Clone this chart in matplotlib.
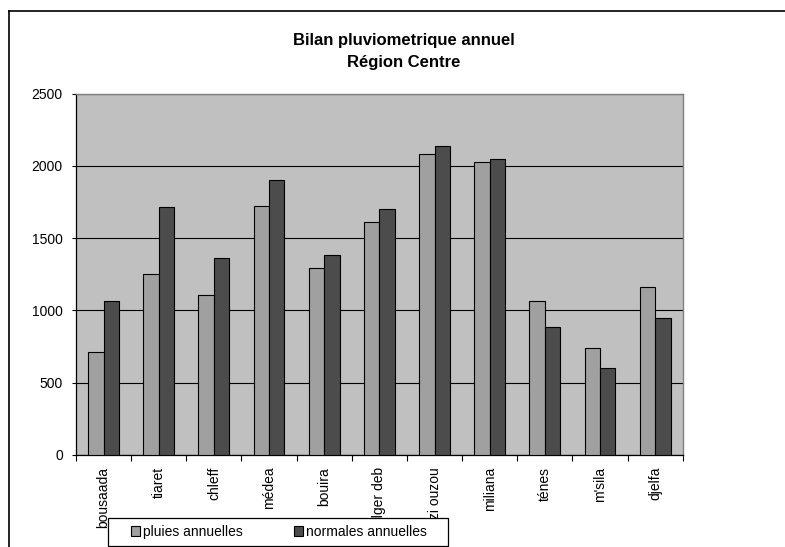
import matplotlib
matplotlib.use("Agg")
import matplotlib.pyplot as plt
from matplotlib.patches import Rectangle
from matplotlib.lines import Line2D
import numpy as np

plt.rcParams['font.family'] = ['Liberation Sans', 'DejaVu Sans']

# annual rainfall per station (mm)
stations = ['bousaada', 'tiaret', 'chleff', 'médea', 'bouira', 'alger deb',
            'tizi ouzou', 'miliana', 'ténes', "m'sila", 'djelfa']
pluies = [710, 1250, 1110, 1720, 1295, 1610, 2085, 2030, 1065, 740, 1165]
normales = [1065, 1715, 1365, 1905, 1385, 1705, 2140, 2050, 885, 605, 950]
yticks = [0, 500, 1000, 1500, 2000, 2500]

W, H = 785, 547
fig = plt.figure(figsize=(W / 100, H / 100), dpi=100)
fig.patch.set_facecolor('white')

def fx(px):
    return px / W

def fy(py):
    return 1 - py / H

# outer chart frame (runs off the right and bottom edges)
fig.add_artist(Line2D([fx(9), fx(9)], [fy(11), fy(560)], color='black', lw=1.2,
                      transform=fig.transFigure))
fig.add_artist(Line2D([fx(9), fx(800)], [fy(11), fy(11)], color='black', lw=1.2,
                      transform=fig.transFigure))

ax = fig.add_axes([fx(76), fy(455), fx(682.7) - fx(76), fy(93.7) - fy(455)])
ax.set_facecolor('#c0c0c0')

x = np.arange(len(stations))
w = 0.28
ax.bar(x - w / 2, pluies, w, color='#a0a0a0', edgecolor='black', linewidth=0.8,
       label='pluies annuelles', zorder=3)
ax.bar(x + w / 2, normales, w, color='#4c4c4c', edgecolor='black', linewidth=0.8,
       label='normales annuelles', zorder=3)

ax.set_xlim(-0.5, len(stations) - 0.5)
ax.set_ylim(0, 2500)
ax.set_yticks(yticks)
ax.set_yticklabels([str(v) for v in yticks], fontsize=10)
ax.tick_params(axis='y', direction='out', length=3, width=0.8, pad=6.5, color='black')

ax.set_xticks(x)
ax.set_xticklabels(stations, rotation=90, fontsize=10, va='top', ha='center')
ax.set_xticks(np.arange(len(stations) + 1) - 0.5, minor=True)
ax.tick_params(axis='x', which='major', length=0, pad=8.5)
ax.tick_params(axis='x', which='minor', direction='out', length=4, width=0.8, color='black')

ax.grid(axis='y', color='black', linewidth=0.8, zorder=1)
ax.set_axisbelow(True)

for side in ('top', 'right'):
    ax.spines[side].set_color('#808080')
    ax.spines[side].set_linewidth(1.0)
for side in ('left', 'bottom'):
    ax.spines[side].set_color('black')
    ax.spines[side].set_linewidth(0.9)

fig.text(fx(404), fy(41), 'Bilan pluviometrique annuel', ha='center', va='center',
         fontsize=12, fontweight='bold')
fig.text(fx(404), fy(63), 'Région Centre', ha='center', va='center',
         fontsize=12, fontweight='bold')

# legend box drawn over the long station labels
fig.add_artist(Rectangle((fx(108), fy(545.7)), fx(447.7) - fx(108), fy(518) - fy(545.7),
                         transform=fig.transFigure, facecolor='white',
                         edgecolor='black', linewidth=0.9, zorder=4))
handles, labels = ax.get_legend_handles_labels()
leg = fig.legend(handles, labels, loc='center left',
                 bbox_to_anchor=(fx(131), fy(532)), ncol=2, frameon=False,
                 fontsize=10, borderpad=0, handlelength=0.65, handleheight=0.65,
                 handletextpad=0.2, columnspacing=3.7, borderaxespad=0)
leg.set_zorder(5)

fig.savefig('out.png', dpi=100)
